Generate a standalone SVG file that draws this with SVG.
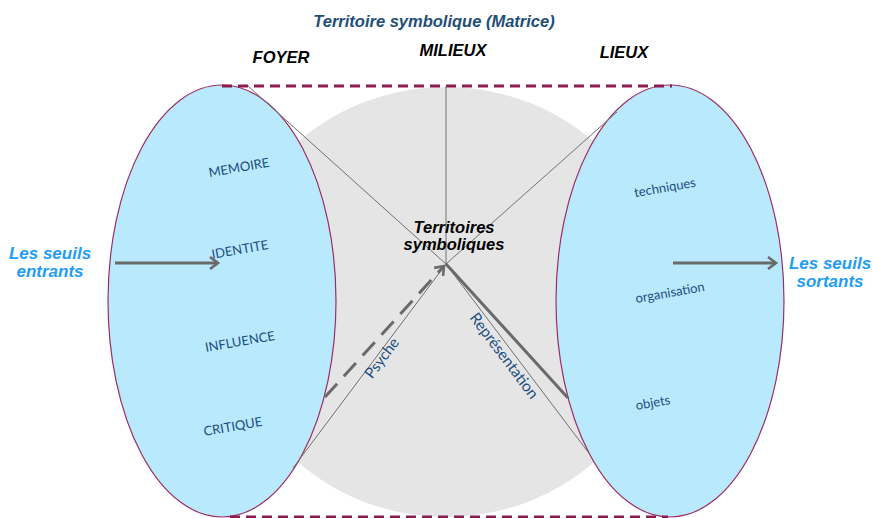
<svg xmlns="http://www.w3.org/2000/svg" width="873" height="518" viewBox="0 0 873 518">
<defs>
<style>
.ell{fill:#b9e9fd;stroke:#9c2e65;stroke-width:1.2}
.mid{fill:#e5e5e5}
.thin{stroke:#707070;stroke-width:1;fill:none}
.thick{stroke:#6a6a6a;stroke-width:3;fill:none}
.frame{stroke:#8e1a52;stroke-width:3;stroke-dasharray:10 6;fill:none}
.hd{font-family:"Liberation Sans",Arial,sans-serif;font-weight:bold;font-style:italic;font-size:16.5px}
.lbl{font-family:Lato,"Open Sans",sans-serif;font-size:13px;fill:#1c4f80;text-anchor:middle}
.seuil{font-family:"Liberation Sans",Arial,sans-serif;font-weight:bold;font-style:italic;font-size:17px;fill:#1e9df2;text-anchor:middle}
</style>
<marker id="chev" markerUnits="userSpaceOnUse" markerWidth="16" markerHeight="16" refX="12" refY="8" orient="auto" viewBox="0 0 16 16">
<path d="M4,2 L12,8 L4,14" fill="none" stroke="#6a6a6a" stroke-width="2.6"/>
</marker>
</defs>
<rect width="873" height="518" fill="#ffffff"/>
<g id="milieux">
<ellipse class="mid" cx="446" cy="302" rx="222" ry="215"/>
</g>
<g id="foyer">
<ellipse class="ell" cx="222" cy="301" rx="114" ry="216"/>
<text class="lbl" transform="rotate(-10 239 168)" x="239" y="172">MEMOIRE</text>
<text class="lbl" transform="rotate(-10 240 250)" x="240" y="254">IDENTITE</text>
<text class="lbl" transform="rotate(-10 240 342)" x="240" y="346">INFLUENCE</text>
<text class="lbl" transform="rotate(-10 233 427)" x="233" y="431">CRITIQUE</text>
</g>
<g id="lieux">
<ellipse class="ell" cx="670" cy="301" rx="114" ry="216"/>
<text class="lbl" transform="rotate(-10 665 188)" x="665" y="192">techniques</text>
<text class="lbl" transform="rotate(-10 670 293)" x="670" y="297">organisation</text>
<text class="lbl" transform="rotate(-10 653 403)" x="653" y="407">objets</text>
</g>
<g id="frame">
<line class="frame" x1="222" y1="86" x2="672" y2="86"/>
<line class="frame" x1="230" y1="517" x2="668" y2="517"/>
</g>
<g id="connectors">
<line class="thin" x1="446" y1="86" x2="446" y2="264"/>
<line class="thin" x1="248" y1="86" x2="446" y2="264"/>
<line class="thin" x1="617" y1="112" x2="446" y2="264"/>
<line class="thin" x1="293" y1="468" x2="446" y2="264"/>
<line class="thin" x1="446" y1="264" x2="588" y2="452"/>
<line class="thick" x1="446" y1="264" x2="568" y2="398"/>
<line class="thick" x1="325" y1="397" x2="444" y2="266" stroke-dasharray="18 10" marker-end="url(#chev)"/>
<line class="thick" x1="115" y1="263" x2="218" y2="263" marker-end="url(#chev)"/>
<line class="thick" x1="673" y1="263" x2="776" y2="263" marker-end="url(#chev)"/>
<text class="lbl" transform="rotate(-53 382 358)" x="382" y="363" style="font-size:15px">Psyche</text>
<text class="lbl" transform="rotate(53 504 356)" x="504" y="361" style="font-size:15.5px">Représentation</text>
</g>
<g id="titles">
<text class="hd" x="434" y="27" text-anchor="middle" fill="#1f4e79">Territoire symbolique (Matrice)</text>
<text class="hd" x="281" y="63" text-anchor="middle" fill="#000">FOYER</text>
<text class="hd" x="453" y="56" text-anchor="middle" fill="#000">MILIEUX</text>
<text class="hd" x="624" y="58" text-anchor="middle" fill="#000">LIEUX</text>
<text class="hd" x="454" y="233" text-anchor="middle" fill="#000">Territoires</text>
<text class="hd" x="454" y="250" text-anchor="middle" fill="#000">symboliques</text>
</g>
<g id="seuils">
<text class="seuil" x="50" y="259">Les seuils</text>
<text class="seuil" x="50" y="277">entrants</text>
<text class="seuil" x="830" y="269">Les seuils</text>
<text class="seuil" x="830" y="287">sortants</text>
</g>
</svg>
